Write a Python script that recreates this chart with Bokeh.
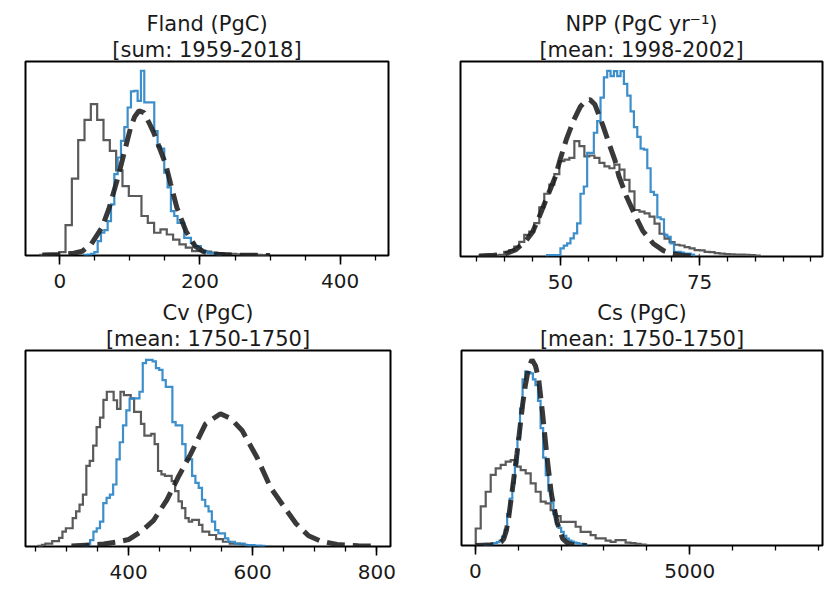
from bokeh.plotting import figure
from bokeh.layouts import column, row
from bokeh.models import Range1d, SingleIntervalTicker, Title
from bokeh.embed import file_html
from bokeh.resources import INLINE

# ---------------- data (heights in arbitrary density units) ----------------
# Panel 1: Fland
fland_title = ["Fland (PgC)", "[sum: 1959-2018]"]
fland_xlim = (-49, 469)
fland_gray_start, fland_gray_width = -28.0, 9.03
fland_gray = [0.3, 0.5, 0.6, 1.7, 15.6, 39.5, 59.3, 69.7, 77.8, 69.7, 59.3, 53.8,
              43.8, 35.7, 30.6, 30.6, 20.3, 16.8, 11.7, 13.4, 10.8, 8.2, 5.7, 4.0,
              2.2, 2.2, 2.0, 1.5, 1.2, 1.0, 0.8, 0.6, 0.5, 0.4, 0.3, 0.2]
fland_blue_start, fland_blue_width = 35.0, 4.75
fland_blue = [0.3, 0.5, 0.8, 1.7, 7.4, 11.7, 13.0, 17.7, 26.3, 41.8, 50.4, 58.9,
              66.0, 76.1, 84.4, 84.7, 79.5, 95.0, 78.7, 78.7, 78.7, 64.0, 56.0, 55.0,
              42.6, 35.0, 22.8, 20.3, 16.8, 16.8, 9.1, 9.1, 6.5, 4.8, 4.8, 2.2,
              2.2, 1.4, 1.2, 0.8, 0.5]
fland_prior_x = [-25, 0, 20, 32, 45, 60, 70, 82, 92, 101, 107, 113, 120, 127, 134,
                 142, 151, 158, 167, 180, 193, 205, 220, 240, 270, 300]
fland_prior_y = [0.2, 0.5, 1.2, 2.2, 6.0, 14.3, 24.0, 39.0, 53.0, 65.8, 71.5, 74.4,
                 73.5, 68.5, 63.2, 55.5, 46.9, 37.0, 24.6, 12.5, 4.8, 2.0, 0.7, 0.3,
                 0.1, 0.05]

# Panel 2: NPP
npp_title = ["NPP (PgC yr\u207b\u00b9)", "[mean: 1998-2002]"]
npp_xlim = (32.05, 97.07)
npp_gray_start, npp_gray_width = 35.4, 0.9
npp_gray = [0.5, 0.5, 0.5, 0.6, 0.8, 2.4, 3.2, 5.0, 7.5, 11.0, 12.7, 17.0, 25.0,
            32.0, 36.6, 42.0, 48.6, 49.4, 50.3, 58.8, 56.3, 51.1, 51.5, 50.3, 47.7,
            46.0, 45.0, 46.8, 44.3, 39.1, 33.2, 23.7, 22.9, 22.0, 20.3, 16.8, 11.6,
            9.1, 7.3, 6.0, 5.6, 4.8, 4.1, 3.2, 3.1, 2.4, 2.2, 1.7, 1.5, 1.2, 1.1,
            1.0, 1.0, 0.9, 0.7, 0.5]
npp_blue_start, npp_blue_width = 47.6, 0.6
npp_blue = [0.7, 0.7, 0.7, 0.7, 4.1, 5.5, 6.7, 9.2, 11.8, 16.9, 32.0, 35.7, 52.8,
            52.8, 63.1, 69.0, 81.0, 91.3, 94.7, 92.0, 94.5, 92.0, 94.5, 88.0, 82.0,
            74.0, 66.0, 61.0, 55.0, 54.5, 45.0, 33.0, 31.4, 20.0, 19.0, 11.0, 10.0,
            6.7, 2.4, 2.4, 2.0, 1.5, 1.5, 1.0]
npp_prior_x = [35.4, 38, 40, 42, 43.8, 45, 46.3, 47.7, 49, 50, 51.1, 52.3, 53.6,
               54.6, 55.3, 56.2, 57.6, 58.8, 59.8, 60.5, 61.8, 63.4, 64.8, 66.7,
               68.5, 70, 72, 75]
npp_prior_y = [0.3, 0.6, 1.2, 3.5, 8.0, 12.5, 21.0, 31.0, 40.0, 50.0, 60.0, 69.0,
               76.5, 79.5, 80.0, 77.5, 67.0, 57.0, 49.0, 41.0, 31.0, 21.0, 13.0,
               6.5, 3.0, 1.5, 0.5, 0.1]

# Panel 3: Cv
cv_title = ["Cv (PgC)", "[mean: 1750-1750]"]
cv_xlim = (234, 822)
cv_gray_start, cv_gray_width = 255.0, 5.5
cv_gray = [0.3, 0.8, 1.5, 1.5, 2.7, 2.7, 4.4, 7.5, 9.2, 9.2, 14.3, 17.7, 21.1, 26.2,
           40.7, 43.2, 50.9, 60.2, 65.0, 74.0, 78.1, 78.1, 73.8, 69.5, 78.1, 76.4,
           76.4, 74.8, 67.9, 67.9, 61.9, 56.0, 56.0, 56.8, 51.7, 38.1, 36.4, 35.6,
           35.6, 33.0, 27.9, 22.8, 19.4, 14.3, 12.6, 13.4, 13.4, 10.9, 7.5, 7.5,
           5.8, 5.8, 3.7, 3.7, 2.4, 2.4, 1.5, 1.5, 1.5, 1.2, 0.8, 0.5, 0.3]
cv_blue_start, cv_blue_width = 327.5, 5.3
cv_blue = [0.5, 1.2, 3.2, 7.5, 9.2, 12.6, 21.9, 24.5, 26.2, 31.3, 44.0, 52.6, 61.1,
           68.7, 74.6, 74.8, 74.8, 78.1, 92.5, 94.2, 94.2, 93.4, 90.0, 89.1, 84.0,
           80.6, 80.6, 62.8, 61.1, 61.1, 51.7, 44.0, 44.0, 35.6, 32.1, 29.6, 23.6,
           20.3, 17.7, 12.6, 8.3, 6.6, 6.6, 4.1, 2.4, 2.4, 1.5, 1.5, 1.5, 0.7, 0.7,
           0.7, 0.5, 0.4, 0.3]
cv_prior_x = [308, 340, 360, 380, 400, 420, 440, 462, 481, 500, 524, 548, 565, 583,
              607, 629, 655, 670, 690, 710, 736, 770, 795]
cv_prior_y = [0.3, 0.8, 1.3, 2.2, 3.5, 7.5, 13.0, 23.6, 35.6, 46.6, 61.9, 67.0, 64.5,
              58.5, 44.9, 29.6, 18.0, 11.5, 5.4, 2.7, 1.0, 0.4, 0.2]

# Panel 4: Cs
cs_title = ["Cs (PgC)", "[mean: 1750-1750]"]
cs_xlim = (-326, 8100)
cs_gray_start, cs_gray_width = 6.0, 116.6
cs_gray = [8.7, 20.0, 27.5, 36.1, 39.5, 41.2, 42.9, 43.7, 40.3, 38.6, 36.9, 31.8,
           27.5, 22.4, 21.5, 18.1, 15.0, 12.1, 12.1, 12.1, 9.6, 7.0, 7.0, 5.3, 3.6,
           3.6, 2.5, 1.9, 2.7, 2.7, 1.5, 1.2, 0.8, 0.5]
cs_blue_start, cs_blue_width = 200.0, 60.0
cs_blue = [0.3, 0.4, 0.5, 0.8, 1.2, 1.7, 2.5, 4.5, 8.0, 16.0, 24.0, 32.0, 42.0, 55.0,
           70.0, 85.0, 89.0, 88.7, 88.0, 85.0, 82.0, 74.0, 60.0, 45.0, 36.0, 28.0,
           22.0, 16.0, 11.0, 9.0, 7.0, 5.0, 3.5, 2.5, 2.0, 1.5, 1.2, 0.8, 0.5, 0.3]
cs_prior_x = [0, 300, 500, 600, 660, 720, 776, 854, 970, 1048, 1100, 1165, 1240,
              1320, 1400, 1476, 1569, 1670, 1771, 1903, 2035, 2150, 2300, 2600]
cs_prior_y = [0.05, 0.2, 0.8, 1.8, 3.4, 7.5, 14.5, 27.4, 47.0, 62.0, 72.0, 82.0,
              91.0, 95.0, 92.0, 85.0, 67.0, 45.3, 26.5, 12.0, 3.5, 1.2, 0.3, 0.05]

GRAY = "#5a5a5a"
BLUE = "#3189c7"
DASH = "#1e1e1e"
TXT = "#1a1a1a"
FONT = "DejaVu Sans"


def step_outline(start, width, heights):
    xs, ys = [start], [0.0]
    for i, h in enumerate(heights):
        x0 = start + i * width
        xs += [x0, x0 + width]
        ys += [h, h]
    xs.append(start + len(heights) * width)
    ys.append(0.0)
    return xs, ys


def panel(title, xlim, gs, gw, gh, bs, bw, bh, px, py, interval, nminor,
          fw, fh, bl, br, bt, bb):
    ymax = 1.05 * max(max(gh), max(bh), max(py))
    p = figure(frame_width=fw, frame_height=fh, title=None,
               x_range=Range1d(*xlim), y_range=Range1d(0, ymax),
               output_backend="svg", toolbar_location=None,
               min_border_left=bl, min_border_right=br,
               min_border_top=bt, min_border_bottom=bb,
               background_fill_color="white", border_fill_color="white")

    # second line nearest the frame, then first line above it
    for txt in (title[1], title[0]):
        p.add_layout(Title(text=txt, align="center", text_font=FONT,
                           text_font_size="21px", text_font_style="normal",
                           text_color=TXT, standoff=0, offset=0), "above")

    gx, gy = step_outline(gs, gw, gh)
    p.line(gx, gy, line_color=GRAY, line_width=2.2, line_join="miter")
    bx, by = step_outline(bs, bw, bh)
    p.line(bx, by, line_color=BLUE, line_width=2.2, line_join="miter", line_alpha=0.95)
    p.line(px, py, line_color=DASH, line_width=5, line_alpha=0.88,
           line_dash="18 8", line_cap="butt")

    p.yaxis.visible = False
    p.xgrid.visible = False
    p.ygrid.visible = False
    ax = p.xaxis[0]
    ax.ticker = SingleIntervalTicker(interval=interval, num_minor_ticks=nminor)
    ax.axis_line_color = None
    ax.major_tick_in = 0
    ax.major_tick_out = 9
    ax.minor_tick_in = 0
    ax.minor_tick_out = 5
    ax.major_tick_line_color = "black"
    ax.minor_tick_line_color = "black"
    ax.major_tick_line_width = 1.6
    ax.minor_tick_line_width = 1.3
    ax.major_label_text_font = FONT
    ax.major_label_text_font_size = "20px"
    ax.major_label_text_color = TXT
    ax.major_label_standoff = 9
    p.outline_line_color = "black"
    p.outline_line_width = 2
    p.outline_line_alpha = 1.0
    return p


p1 = panel(fland_title, fland_xlim, fland_gray_start, fland_gray_width, fland_gray,
           fland_blue_start, fland_blue_width, fland_blue, fland_prior_x, fland_prior_y,
           200, 4, 363, 194, 25, 42, 57, 47)
p2 = panel(npp_title, npp_xlim, npp_gray_start, npp_gray_width, npp_gray,
           npp_blue_start, npp_blue_width, npp_blue, npp_prior_x, npp_prior_y,
           25, 5, 362, 195, 30, 8, 61, 42)
p3 = panel(cv_title, cv_xlim, cv_gray_start, cv_gray_width, cv_gray,
           cv_blue_start, cv_blue_width, cv_blue, cv_prior_x, cv_prior_y,
           200, 4, 365, 196, 25, 40, 50, 44)
p4 = panel(cs_title, cs_xlim, cs_gray_start, cs_gray_width, cs_gray,
           cs_blue_start, cs_blue_width, cs_blue, cs_prior_x, cs_prior_y,
           5000, 5, 361, 195, 31, 8, 52, 43)

layout = column(row(p1, p2, spacing=0), row(p3, p4, spacing=0), spacing=0)
open("out.html", "w").write(file_html(layout, INLINE))
